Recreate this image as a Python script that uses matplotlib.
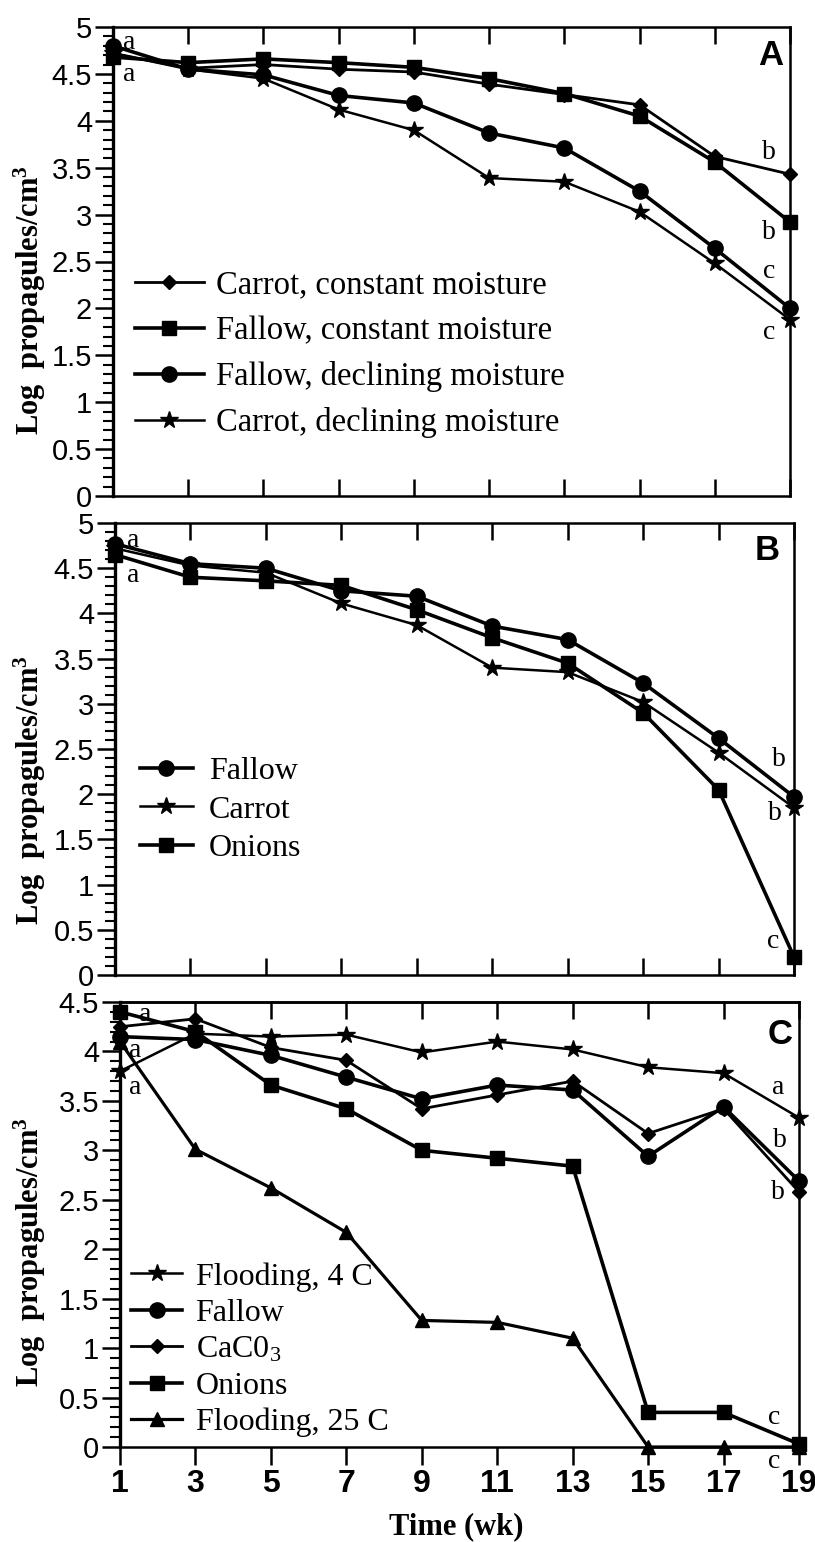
import matplotlib
matplotlib.use('Agg')
import matplotlib.pyplot as plt
from matplotlib.ticker import MultipleLocator, FixedLocator, FuncFormatter
from matplotlib.lines import Line2D
from matplotlib import font_manager

plt.rcParams['mathtext.fontset'] = 'custom'
plt.rcParams['mathtext.rm'] = 'Liberation Serif'
plt.rcParams['mathtext.bf'] = 'Liberation Serif:bold'
plt.rcParams['mathtext.it'] = 'Liberation Serif:italic'

# ---------------- data ----------------
weeks = [1, 3, 5, 7, 9, 11, 13, 15, 17, 19]
week_ticks = [1, 3, 5, 7, 9, 11, 13, 15, 17, 19]

# Panel A
a_labels = ['Carrot, constant moisture', 'Fallow, constant moisture',
            'Fallow, declining moisture', 'Carrot, declining moisture']
a_carrot_const = [4.72, 4.56, 4.60, 4.55, 4.52, 4.39, 4.28, 4.17, 3.62, 3.43]
a_fallow_const = [4.68, 4.62, 4.66, 4.62, 4.57, 4.45, 4.29, 4.05, 3.56, 2.92]
a_fallow_decl = [4.80, 4.55, 4.49, 4.27, 4.19, 3.87, 3.71, 3.25, 2.64, 2.00]
a_carrot_decl = [4.72, 4.55, 4.45, 4.12, 3.90, 3.39, 3.35, 3.03, 2.48, 1.88]
a_letters = ['a', 'a', 'b', 'b', 'c', 'c']
a_letter_pos = [(1.42, 4.84), (1.42, 4.49), (18.45, 3.66), (18.45, 2.81), (18.45, 2.39), (18.45, 1.74)]

# Panel B
b_labels = ['Fallow', 'Carrot', 'Onions']
b_fallow = [4.77, 4.55, 4.50, 4.25, 4.19, 3.86, 3.71, 3.23, 2.62, 1.97]
b_carrot = [4.72, 4.53, 4.45, 4.11, 3.87, 3.40, 3.35, 3.02, 2.46, 1.85]
b_onions = [4.65, 4.40, 4.36, 4.31, 4.04, 3.73, 3.45, 2.90, 2.05, 0.20]
b_letters = ['a', 'a', 'b', 'b', 'c']
b_letter_pos = [(1.48, 4.81), (1.48, 4.42), (18.6, 2.38), (18.5, 1.79), (18.45, 0.37)]

# Panel C
c_labels = ['Flooding, 4 C', 'Fallow', 'CaC0$_3$', 'Onions', 'Flooding, 25 C']
c_flood4 = [3.80, 4.18, 4.15, 4.17, 3.99, 4.10, 4.02, 3.84, 3.78, 3.33]
c_fallow = [4.15, 4.12, 3.96, 3.74, 3.52, 3.66, 3.61, 2.94, 3.44, 2.69]
c_caco3 = [4.25, 4.33, 4.04, 3.91, 3.42, 3.56, 3.70, 3.17, 3.42, 2.58]
c_onions = [4.40, 4.20, 3.66, 3.42, 3.00, 2.92, 2.84, 0.35, 0.35, 0.03]
c_flood25 = [4.10, 3.01, 2.62, 2.17, 1.28, 1.26, 1.10, 0.00, 0.00, 0.00]
c_letters = ['a', 'a', 'a', 'a', 'b', 'b', 'c', 'c']
c_letter_pos = [(1.66, 4.37), (1.4, 4.01), (1.4, 3.64), (18.45, 3.64), (18.5, 3.10),
                (18.45, 2.57), (18.35, 0.30), (18.35, -0.15)]

# ---------------- layout ----------------
W, H = 815, 1542
fig = plt.figure(figsize=(W / 100, H / 100), dpi=100)


def add_ax(left, right, top, bottom):
    return fig.add_axes([left / W, 1 - bottom / H, (right - left) / W, (bottom - top) / H])


axA = add_ax(113, 790, 27, 496)
axB = add_ax(115, 794, 523, 975)
axC = add_ax(120, 799, 1002, 1447)

SANS = 'Liberation Sans'
SERIF = 'Liberation Serif'
names = {f.name for f in font_manager.fontManager.ttflist}
if 'Liberation Sans Narrow' in names:
    XFONT = dict(family='Liberation Sans Narrow', weight='bold', size=25)
else:
    XFONT = dict(family='Liberation Sans', weight='bold', size=23)

fmt = FuncFormatter(lambda v, p: f'{v:g}')

styles = {
    'diamond': dict(marker='D', ms=7, lw=2.0),
    'square': dict(marker='s', ms=9.5, lw=2.6),
    'circle': dict(marker='o', ms=11, lw=2.6),
    'star': dict(marker='*', ms=13, lw=1.8),
    'tri': dict(marker='^', ms=10, lw=2.3),
}


def draw(ax, y, kind):
    st = styles[kind]
    ax.plot(weeks, y, color='black', marker=st['marker'], ms=st['ms'], lw=st['lw'],
            mec='black', mfc='black', clip_on=False, zorder=3)
    return Line2D([], [], color='black', marker=st['marker'], ms=st['ms'], lw=st['lw'])


def style_axis(ax, ymax, bottom_out=False):
    ax.set_xlim(1, 19)
    ax.set_ylim(0, ymax)
    ax.yaxis.set_major_locator(MultipleLocator(0.5))
    ax.yaxis.set_minor_locator(MultipleLocator(0.1))
    ax.yaxis.set_major_formatter(fmt)
    ax.xaxis.set_major_locator(FixedLocator(week_ticks))
    for s in ['top', 'bottom', 'right']:
        ax.spines[s].set_linewidth(1.8)
    ax.spines['left'].set_linewidth(2.4)
    ax.tick_params(axis='y', which='major', direction='out', length=13, width=1.8,
                   labelsize=21, pad=2, right=False)
    ax.tick_params(axis='y', which='minor', direction='out', length=7, width=1.5, right=False)
    for lab in ax.get_yticklabels():
        lab.set_fontfamily(SANS)
    if bottom_out:
        ax.tick_params(axis='x', which='major', direction='out', length=13, width=1.8,
                       top=False, bottom=True, labelbottom=True, pad=3)
        for lab in ax.get_xticklabels():
            lab.set_fontfamily(XFONT['family'])
            lab.set_fontweight(XFONT['weight'])
            lab.set_fontsize(XFONT['size'])
        sec = ax.secondary_xaxis('top')
        sec.set_xticks(week_ticks)
        sec.tick_params(direction='in', length=12, width=1.8, labeltop=False)
        sec.spines['top'].set_linewidth(1.8)
    else:
        ax.tick_params(axis='x', which='major', direction='in', length=12, width=1.8,
                       top=True, bottom=True, labelbottom=False)


def put_legend(ax, handles, labels, left_px, top_px, ax_box, handlelength, spacing, pad, size):
    l, r, t, b = ax_box
    x = (left_px - l) / (r - l)
    y = (b - top_px) / (b - t)
    ax.legend(handles, labels, loc='upper left', bbox_to_anchor=(x, y), frameon=False,
              prop=dict(family=SERIF, size=size), handlelength=handlelength,
              handletextpad=pad, labelspacing=spacing, borderpad=0, borderaxespad=0,
              numpoints=1)


def letters(ax, labs, pos):
    for t, (x, y) in zip(labs, pos):
        ax.text(x, y, t, fontsize=20, family=SERIF, ha='center', va='center', clip_on=False)


# ---------------- Panel A ----------------
style_axis(axA, 5)
hA = [draw(axA, a_carrot_const, 'diamond'), draw(axA, a_fallow_const, 'square'),
      draw(axA, a_fallow_decl, 'circle'), draw(axA, a_carrot_decl, 'star')]
put_legend(axA, hA, a_labels, 135, 270, (113, 790, 27, 496), 2.1, 0.46, 0.38, 23.5)
letters(axA, a_letters, a_letter_pos)
axA.text(0.99, 0.975, 'A', transform=axA.transAxes, ha='right', va='top',
         fontsize=25, fontweight='bold', family=SANS)

# ---------------- Panel B ----------------
style_axis(axB, 5)
hB = [draw(axB, b_fallow, 'circle'), draw(axB, b_carrot, 'star'), draw(axB, b_onions, 'square')]
put_legend(axB, hB, b_labels, 140, 757, (115, 794, 523, 975), 1.65, 0.28, 0.5, 23)
letters(axB, b_letters, b_letter_pos)
axB.text(0.979, 0.975, 'B', transform=axB.transAxes, ha='right', va='top',
         fontsize=25, fontweight='bold', family=SANS)

# ---------------- Panel C ----------------
style_axis(axC, 4.5, bottom_out=True)
hC = [draw(axC, c_flood4, 'star'), draw(axC, c_fallow, 'circle'), draw(axC, c_caco3, 'diamond'),
      draw(axC, c_onions, 'square'), draw(axC, c_flood25, 'tri')]
put_legend(axC, hC, c_labels, 131, 1262, (120, 799, 1002, 1447), 1.6, 0.22, 0.42, 23)
letters(axC, c_letters, c_letter_pos)
axC.text(0.99, 0.965, 'C', transform=axC.transAxes, ha='right', va='top',
         fontsize=25, fontweight='bold', family=SANS)

# ---------------- labels ----------------
ylab = 'Log  propagules/cm$^\\mathbf{3}$'
for yc in (300, 790, 1252):
    fig.text(30 / W, 1 - yc / H, ylab, rotation=90, ha='center', va='center',
             fontsize=22, fontweight='bold', family=SERIF)
fig.text(456 / W, 1 - 1527 / H, 'Time (wk)', ha='center', va='center',
         fontsize=22, fontweight='bold', family=SERIF)

fig.savefig('out.png', dpi=100)
